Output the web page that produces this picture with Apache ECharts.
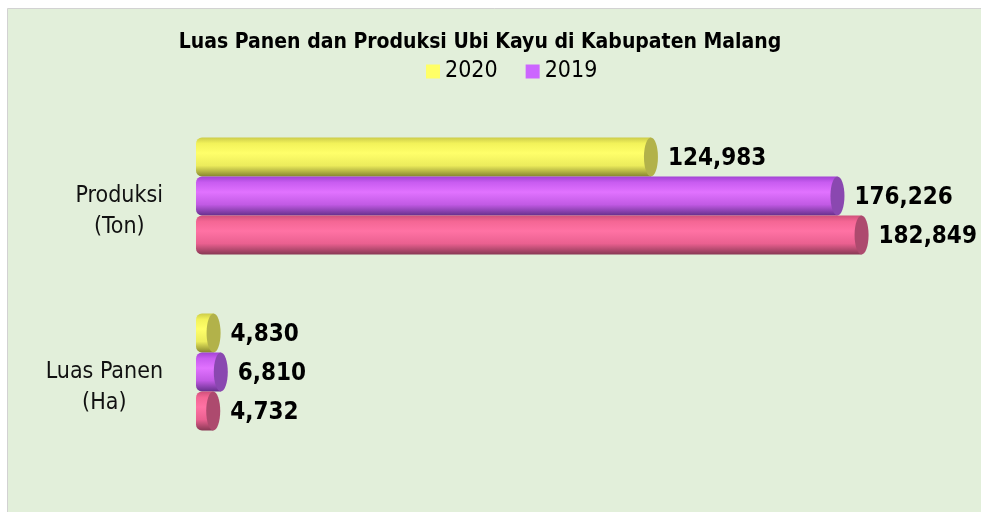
<!DOCTYPE html>
<html>
<head>
<meta charset="utf-8">
<script src="https://cdn.jsdelivr.net/npm/echarts@6/dist/echarts.min.js"></script>
<style>
  html, body { margin: 0; padding: 0; background: #ffffff; }
  #chart { width: 981px; height: 512px; }
</style>
</head>
<body>
<div id="chart"></div>
<script>
// Cassava (ubi kayu) harvested area and production, Malang Regency
const categories = ['Produksi\n(Ton)', 'Luas Panen\n(Ha)'];
const years = ['2020', '2019', '2018'];
const values2020 = [124983, 4830];
const values2019 = [176226, 6810];
const values2018 = [182849, 4732];

const FONT = '"DejaVu Sans Condensed", "DejaVu Sans", sans-serif';

// cylinder shading: [top, upper, mid, lower, bottom], cap face, legend swatch
const palette = [
  { stops: ['#cccc4a', '#f2f25a', '#ffff6a', '#ecec5c', '#86862f'], cap: '#b2b24a', flat: '#ffff66' },
  { stops: ['#a244d4', '#c85cf0', '#e172ff', '#c15ae4', '#66308c'], cap: '#8a48b0', flat: '#cc66ff' },
  { stops: ['#d0507a', '#f46694', '#ff72a4', '#ea6090', '#883854'], cap: '#ad4a6e', flat: '#ff6fa0' }
];

const seriesValues = [values2020, values2019, values2018];
const fmt = v => v.toLocaleString('en-US');

function makeRenderer(k) {
  const p = palette[k];
  return function (params, api) {
    const cat = api.value(1);
    const val = api.value(0);
    const end = api.coord([val, cat]);
    const start = api.coord([0, cat]);
    const band = api.size([0, 1])[1];
    const h = band * 39 / 176;
    const top = end[1] - 1.5 * h + k * h;
    const rx = 7;
    const grad = new echarts.graphic.LinearGradient(0, 0, 0, 1, [
      { offset: 0, color: p.stops[0] },
      { offset: 0.15, color: p.stops[1] },
      { offset: 0.4, color: p.stops[2] },
      { offset: 0.72, color: p.stops[3] },
      { offset: 1, color: p.stops[4] }
    ]);
    return {
      type: 'group',
      children: [
        {
          type: 'rect',
          shape: { x: start[0], y: top, width: end[0] - start[0], height: h, r: [6, 0, 0, 6] },
          style: { fill: grad }
        },
        {
          type: 'ellipse',
          shape: { cx: end[0], cy: top + h / 2, rx: rx, ry: h / 2 },
          style: { fill: p.cap }
        },
        {
          type: 'text',
          x: end[0] + rx + 10,
          y: top + h / 2 + 2,
          style: {
            text: fmt(val),
            fill: '#000000',
            font: 'bold 24px ' + FONT,
            verticalAlign: 'middle',
            align: 'left'
          }
        }
      ]
    };
  };
}

const series = years.map((y, k) => ({
  type: 'custom',
  name: y,
  renderItem: makeRenderer(k),
  itemStyle: { color: palette[k].flat },
  encode: { x: 0, y: 1 },
  data: seriesValues[k].map((v, i) => [v, i])
}));

const chart = echarts.init(document.getElementById('chart'), null, { renderer: 'canvas' });
chart.setOption({
  animation: false,
  backgroundColor: '#ffffff',
  graphic: [{
    type: 'rect',
    z: -10,
    shape: { x: 7.5, y: 8.5, width: 990, height: 520 },
    style: { fill: '#e2efda', stroke: '#d2d2d2', lineWidth: 1 }
  }],
  title: {
    text: 'Luas Panen dan Produksi Ubi Kayu di Kabupaten Malang',
    left: 480,
    textAlign: 'center',
    top: 32,
    padding: 0,
    textStyle: { fontFamily: FONT, fontWeight: 'bold', fontSize: 21, color: '#000000' }
  },
  legend: {
    data: ['2020', '2019'],
    left: 426,
    top: 60,
    padding: 0,
    itemWidth: 14,
    itemHeight: 14,
    itemGap: 28,
    icon: 'rect',
    textStyle: { fontFamily: FONT, fontSize: 23, color: '#000000' }
  },
  grid: { left: 196, top: 108, width: 728, height: 352 },
  xAxis: { type: 'value', min: 0, max: 200000, show: false },
  yAxis: {
    type: 'category',
    data: categories,
    inverse: true,
    axisLine: { show: false },
    axisTick: { show: false },
    splitLine: { show: false },
    axisLabel: {
      margin: 33,
      padding: [32, 0, 0, 0],
      formatter: v => v.split('\n').map(s => '{c|' + s + '}').join('\n'),
      rich: {
        c: { align: 'center', fontFamily: FONT, fontSize: 23, lineHeight: 31, color: '#111111' }
      }
    }
  },
  series: series
});
</script>
</body>
</html>
